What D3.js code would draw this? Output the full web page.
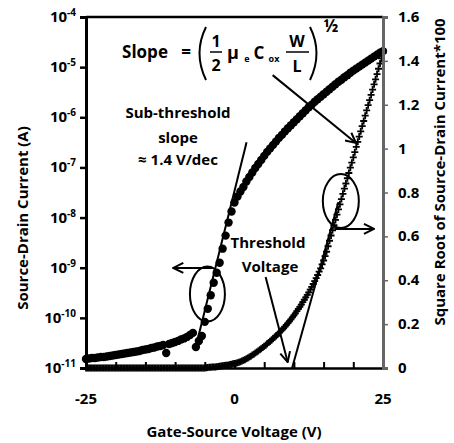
<!DOCTYPE html>
<html>
<head>
<meta charset="utf-8">
<script src="https://cdn.jsdelivr.net/npm/d3@7"></script>
<style>
  body { margin: 0; background: #fff; }
  text { font-family: "Open Sans", sans-serif; font-weight: bold; fill: #000; }
</style>
</head>
<body>
<div id="chart"></div>
<script>
// gate voltage sweeps (V): current sweep in 0.5 V steps, sqrt sweep in 0.25 V steps
const vgLog = d3.range(-25, 25.01, 0.5);
const vgSqrt = d3.range(-25, 25.01, 0.25);

// log10 of source-drain current (A), one value per 0.5 V point (10 per 5 V row)
const logId = [
  -10.82, -10.81, -10.80, -10.80, -10.79, -10.78, -10.78, -10.77, -10.76, -10.75,
  -10.74, -10.73, -10.72, -10.71, -10.70, -10.69, -10.68, -10.67, -10.66, -10.64,
  -10.63, -10.62, -10.60, -10.59, -10.57, -10.56, -10.54, -10.70, -10.52, -10.50,
  -10.48, -10.46, -10.43, -10.41, -10.38, -10.34, -10.30, -10.58, -10.46, -10.36,
  -10.08, -9.82, -9.55, -9.30, -9.10, -8.90, -8.62, -8.36, -8.10, -7.88,
  -7.70, -7.58, -7.48, -7.39, -7.28, -7.19, -7.10, -7.01, -6.93, -6.85,
  -6.77, -6.69, -6.62, -6.55, -6.48, -6.41, -6.35, -6.28, -6.22, -6.16,
  -6.10, -6.04, -5.98, -5.92, -5.86, -5.80, -5.75, -5.69, -5.64, -5.59,
  -5.54, -5.49, -5.44, -5.39, -5.34, -5.29, -5.25, -5.20, -5.16, -5.11,
  -5.07, -5.03, -4.99, -4.95, -4.91, -4.87, -4.83, -4.79, -4.75, -4.71,
  -4.68
];

// square root of source-drain current * 100, one value per 0.25 V point (20 per 5 V row)
const sqrtId = [
  0, 0, 0, 0, 0, 0, 0, 0, 0, 0, 0, 0, 0, 0, 0, 0, 0, 0, 0, 0,
  0, 0, 0, 0, 0, 0, 0, 0, 0, 0, 0, 0, 0, 0, 0, 0, 0, 0, 0, 0,
  0, 0, 0, 0, 0, 0, 0, 0, 0, 0, 0, 0, 0, 0, 0, 0, 0, 0, 0, 0,
  0, 0, 0, 0, 0, 0, 0, 0, 0, 0, 0, 0, 0, 0, 0, 0, 0, 0, 0, 0,
  0, 0.001, 0.002, 0.003, 0.003, 0.004, 0.004, 0.005, 0.006, 0.007,
  0.008, 0.009, 0.010, 0.011, 0.012, 0.013, 0.014, 0.016, 0.017, 0.019,
  0.020, 0.022, 0.024, 0.026, 0.029, 0.032, 0.035, 0.038, 0.042, 0.046,
  0.050, 0.054, 0.059, 0.063, 0.068, 0.073, 0.078, 0.083, 0.088, 0.093,
  0.099, 0.104, 0.110, 0.116, 0.122, 0.128, 0.134, 0.140, 0.147, 0.153,
  0.160, 0.167, 0.174, 0.181, 0.189, 0.197, 0.205, 0.213, 0.222, 0.231,
  0.240, 0.249, 0.259, 0.269, 0.279, 0.289, 0.300, 0.311, 0.322, 0.333,
  0.345, 0.357, 0.370, 0.383, 0.396, 0.410, 0.424, 0.439, 0.454, 0.472,
  0.490, 0.510, 0.530, 0.555, 0.580, 0.604, 0.628, 0.651, 0.675, 0.699,
  0.723, 0.746, 0.770, 0.794, 0.818, 0.841, 0.865, 0.889, 0.913, 0.936,
  0.960, 0.984, 1.008, 1.031, 1.055, 1.079, 1.103, 1.126, 1.150, 1.174,
  1.198, 1.221, 1.245, 1.269, 1.293, 1.316, 1.340, 1.364, 1.388, 1.411,
  1.435
];

const xTicks = [-25, -20, -15, -10, -5, 0, 5, 10, 15, 20, 25];
const xLabels = [-25, 0, 25];
const logTicks = [-11, -10, -9, -8, -7, -6, -5, -4];
const rightTicks = [0, 0.2, 0.4, 0.6, 0.8, 1, 1.2, 1.4, 1.6];

const w = 454, h = 443;
const mLeft = 86, mRight = 383, mTop = 17, mBottom = 368;

const svg = d3.select('#chart').append('svg')
  .attr('width', w).attr('height', h);

const x = d3.scaleLinear().domain([-25, 25]).range([mLeft, mRight]);
const yLog = d3.scaleLog().domain([1e-11, 1e-4]).range([mBottom, mTop]);
const yR = d3.scaleLinear().domain([0, 1.6]).range([mBottom, mTop]);

const defs = svg.append('defs');
defs.append('marker')
  .attr('id', 'head')
  .attr('viewBox', '0 0 12 12')
  .attr('refX', 11).attr('refY', 6)
  .attr('markerWidth', 12).attr('markerHeight', 12)
  .attr('markerUnits', 'userSpaceOnUse')
  .attr('orient', 'auto')
  .append('path')
  .attr('d', 'M1,1 L11,6 L1,11')
  .attr('fill', 'none').attr('stroke', '#000').attr('stroke-width', 2);

// data: sqrt series (plus markers)
svg.append('g').selectAll('path')
  .data(vgSqrt)
  .enter().append('path')
  .attr('transform', (d, i) => `translate(${x(d)},${yR(sqrtId[i])})`)
  .attr('d', 'M-3.5,0H3.5M0,-3.5V3.5')
  .attr('stroke', '#000').attr('stroke-width', 1.8);

// data: log current series (circles)
svg.append('g').selectAll('circle')
  .data(vgLog)
  .enter().append('circle')
  .attr('cx', d => x(d))
  .attr('cy', (d, i) => yLog(Math.pow(10, logId[i])))
  .attr('r', 4.2)
  .attr('fill', '#000');

// frame
svg.append('line').attr('x1', mLeft).attr('x2', mRight).attr('y1', mTop).attr('y2', mTop)
  .attr('stroke', '#000').attr('stroke-width', 2.5);

// bottom axis, ticks pointing inward
const xAxis = svg.append('g').attr('transform', `translate(0,${mBottom})`)
  .call(d3.axisBottom(x).tickValues(xTicks).tickSize(-6).tickFormat(''));
xAxis.select('.domain').attr('stroke', '#000').attr('stroke-width', 2.5);
xAxis.selectAll('.tick line').attr('stroke', '#000').attr('stroke-width', 2);

svg.append('g').selectAll('text')
  .data(xLabels)
  .enter().append('text')
  .attr('x', d => x(d)).attr('y', 404)
  .attr('text-anchor', 'middle')
  .style('font-size', '15px')
  .text(d => d);

// left log axis
const yAxisL = svg.append('g').attr('transform', `translate(${mLeft},0)`)
  .call(d3.axisLeft(yLog).tickValues(logTicks.map(e => Math.pow(10, e))).tickSize(6).tickFormat(''));
yAxisL.select('.domain').attr('stroke', '#000').attr('stroke-width', 3);
yAxisL.selectAll('.tick line').attr('stroke', '#000').attr('stroke-width', 2.5);

const ll = svg.append('g').selectAll('text')
  .data(logTicks)
  .enter().append('text')
  .attr('x', 76).attr('y', d => yLog(Math.pow(10, d)) + 5)
  .attr('text-anchor', 'end')
  .style('font-size', '15px');
ll.append('tspan').text('10');
ll.append('tspan').attr('dy', -6).style('font-size', '10px').text(d => d);

// right sqrt axis
const yAxisR = svg.append('g').attr('transform', `translate(${mRight},0)`)
  .call(d3.axisRight(yR).tickValues(rightTicks).tickSize(5).tickFormat(''));
yAxisR.select('.domain').attr('stroke', '#666').attr('stroke-width', 3);
yAxisR.selectAll('.tick line').attr('stroke', '#666').attr('stroke-width', 1.5);

svg.append('g').selectAll('text')
  .data(rightTicks)
  .enter().append('text')
  .attr('x', 398).attr('y', d => yR(d) + 5)
  .style('font-size', '15px')
  .text(d => d);

// axis titles
svg.append('text')
  .attr('transform', `translate(28,218) rotate(-90)`)
  .attr('text-anchor', 'middle')
  .style('font-size', '15px')
  .text('Source-Drain Current (A)');

svg.append('text')
  .attr('x', 234).attr('y', 437)
  .attr('text-anchor', 'middle')
  .style('font-size', '15px')
  .text('Gate-Source Voltage (V)');

svg.append('text')
  .attr('transform', `translate(445,172) rotate(-90)`)
  .attr('text-anchor', 'middle')
  .style('font-size', '15px')
  .text('Square Root of Source-Drain Current*100');

// tangent lines
svg.append('line')
  .attr('x1', x(-6.25)).attr('y1', yLog(Math.pow(10, -10.45)))
  .attr('x2', x(2.03)).attr('y2', yLog(Math.pow(10, -6.5)))
  .attr('stroke', '#000').attr('stroke-width', 2);

svg.append('line')
  .attr('x1', x(9.7)).attr('y1', yR(0))
  .attr('x2', x(17.5)).attr('y2', yR(0.757))
  .attr('stroke', '#000').attr('stroke-width', 2);

// arrows
const arrow = (v1, r1, v2, r2) => svg.append('line')
  .attr('x1', x(v1)).attr('y1', yR(r1))
  .attr('x2', x(v2)).attr('y2', yR(r2))
  .attr('stroke', '#000').attr('stroke-width', 2)
  .attr('marker-end', 'url(#head)');

arrow(6.42, 1.335, 20.44, 1.026);   // slope
arrow(5.24, 0.415, 8.95, 0.027);    // threshold voltage
arrow(-3.72, 0.456, -10.3, 0.456);  // left axis
arrow(16.9, 0.634, 23.48, 0.634);   // right axis

// ellipses
svg.append('ellipse')
  .attr('cx', x(-4.56)).attr('cy', yR(0.337)).attr('rx', 17.5).attr('ry', 27.5)
  .attr('fill', 'none').attr('stroke', '#000').attr('stroke-width', 2);
svg.append('ellipse')
  .attr('cx', x(17.9)).attr('cy', yR(0.761)).attr('rx', 18).attr('ry', 27)
  .attr('fill', 'none').attr('stroke', '#000').attr('stroke-width', 2);

// text annotations
const note = (tx, ty, s, size) => svg.append('text')
  .attr('x', tx).attr('y', ty).attr('text-anchor', 'middle')
  .style('font-size', size + 'px').text(s);

note(178, 118, 'Sub-threshold', 15);
note(178, 143, 'slope', 15);
note(178, 165, '\u2248 1.4 V/dec', 15);
note(268, 248, 'Threshold', 15);
note(270, 272, 'Voltage', 15);

// formula
note(145, 58, 'Slope', 17);
note(186, 58, '=', 17);
const paren = d => svg.append('path').attr('d', d)
  .attr('fill', 'none').attr('stroke', '#000').attr('stroke-width', 2);
paren('M206,27 Q193,53 206,80');
paren('M310,27 Q323,53 310,80');
note(216, 47, '1', 16);
note(216, 71, '2', 16);
svg.append('line').attr('x1', 210).attr('x2', 222).attr('y1', 52).attr('y2', 52)
  .attr('stroke', '#000').attr('stroke-width', 1.5);
note(233, 59, '\u03bc', 18);
note(247, 62, 'e', 9);
note(259, 59, 'C', 17);
note(274, 62, 'ox', 9);
note(297, 47, 'W', 16);
note(297, 72, 'L', 16);
svg.append('line').attr('x1', 286).attr('x2', 309).attr('y1', 52).attr('y2', 52)
  .attr('stroke', '#000').attr('stroke-width', 1.5);
note(331, 32, '\u00bd', 17);
</script>
</body>
</html>
